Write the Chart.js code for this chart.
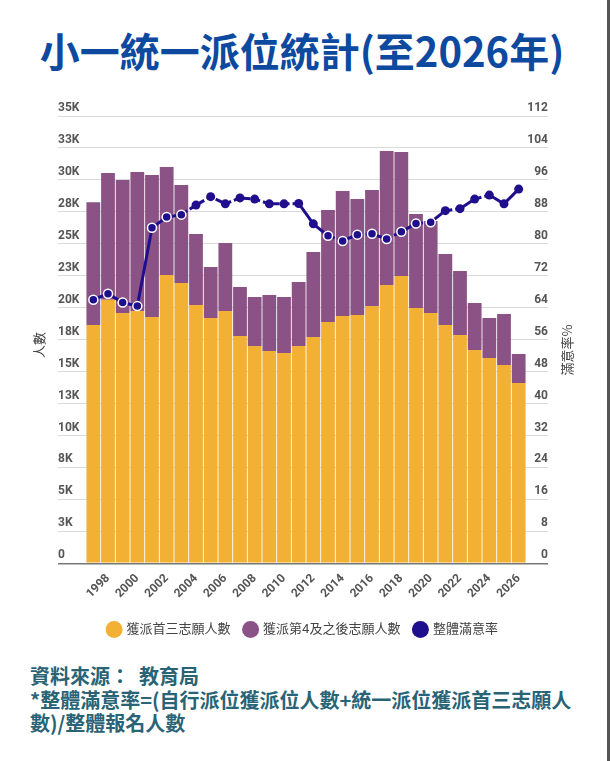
<!DOCTYPE html>
<html>
<head>
<meta charset="utf-8">
<script src="https://cdn.jsdelivr.net/npm/chart.js@4"></script>
<style>
  html, body { margin: 0; padding: 0; background: #fff; }
  body { width: 612px; height: 761px; position: relative; overflow: hidden; }
  #title {
    position: absolute; left: 0; top: 26px; width: 604px; text-align: center;
    font-family: "Noto Sans CJK TC", sans-serif; font-weight: bold; font-size: 40px;
    color: #0d4a9f; line-height: 48px; margin: 0;
  }
  #wrap { position: absolute; left: 0; top: 98px; width: 612px; height: 560px; }
  #note {
    position: absolute; left: 30px; top: 664px; white-space: nowrap;
    font-family: "Noto Sans CJK TC", sans-serif; font-weight: bold; font-size: 20px;
    line-height: 23.5px; color: #296376;
  }
  #edge { position: absolute; left: 607px; top: 0; width: 3px; height: 761px; background: #555; }
</style>
</head>
<body>
<h1 id="title">小一統一派位統計(至2026年)</h1>
<div id="wrap"><canvas id="graph"></canvas></div>
<div id="note">資料來源：&nbsp;&nbsp;教育局<br>*整體滿意率=(自行派位獲派位人數+統一派位獲派首三志願人<br>數)/整體報名人數</div>
<div id="edge"></div>
<script>
// 年份
const years = ['1997', '1998', '1999', '2000', '2001', '2002', '2003', '2004', '2005', '2006',
  '2007', '2008', '2009', '2010', '2011', '2012', '2013', '2014', '2015', '2016',
  '2017', '2018', '2019', '2020', '2021', '2022', '2023', '2024', '2025', '2026'];

// 獲派首三志願人數
const topThree = [18650, 20630, 19590, 19740, 19270, 22560, 21930, 20210, 19200, 19740,
  17790, 17000, 16610, 16460, 17000, 17710, 18880, 19350, 19430, 20130,
  21780, 22480, 19980, 19590, 18650, 17870, 16690, 16070, 15520, 14110];

// 獲派第4及之後志願人數
const fourthPlus = [9600, 9910, 10400, 10880, 11110, 8450, 7670, 5560, 3990, 5320,
  3830, 3840, 4380, 4380, 5010, 6650, 8770, 9780, 9080, 9080,
  10480, 9700, 7350, 7200, 5550, 5000, 3680, 3130, 3990, 2270];

// 整體滿意率 (%)
const satisfaction = [66.0, 67.5, 65.3, 64.4, 84.0, 86.7, 87.3, 89.7, 91.8, 90.0,
  91.5, 91.2, 90.0, 90.0, 90.1, 85.0, 82.0, 80.7, 82.3, 82.5,
  81.2, 83.0, 85.1, 85.4, 88.3, 88.8, 91.2, 92.2, 90.0, 93.7];

const ORANGE = '#f2b035';
const PURPLE = '#8a5285';
const NAVY = '#1f0f8c';
const GRID = '#dadada';
const TEXT = '#555';

// 虛線段 / 白邊點
const dashedFrom = [6, 7, 8, 9, 10, 11, 12, 13, 16, 17, 18, 19, 20, 22, 24, 26];
const ringed = i => i <= 6 || (i >= 16 && i <= 23);

const titlesPlugin = {
  id: 'axisTitles',
  afterDraw(chart) {
    const c = chart.ctx;
    c.save();
    c.fillStyle = '#444';
    c.font = '13px "Noto Sans CJK TC", sans-serif';
    c.textAlign = 'center';
    c.textBaseline = 'middle';
    [['人數', 39, 247], ['滿意率%', 567, 252]].forEach(([t, x, y]) => {
      c.save();
      c.translate(x, y);
      c.rotate(-Math.PI / 2);
      c.fillText(t, 0, 0);
      c.restore();
    });
    c.restore();
  }
};

Chart.defaults.font.family = 'Roboto, "Noto Sans CJK TC", sans-serif';
Chart.defaults.color = TEXT;

const ctx = document.getElementById('graph').getContext('2d');

new Chart(ctx, {
  data: {
    labels: years,
    datasets: [{
      type: 'bar',
      label: '獲派首三志願人數',
      data: topThree,
      backgroundColor: ORANGE,
      stack: 's',
      order: 2
    }, {
      type: 'bar',
      label: '獲派第4及之後志願人數',
      data: fourthPlus,
      backgroundColor: PURPLE,
      stack: 's',
      order: 2
    }, {
      type: 'line',
      label: '整體滿意率',
      data: satisfaction,
      yAxisID: 'y1',
      borderColor: NAVY,
      borderWidth: 3,
      pointRadius: 4.5,
      pointBackgroundColor: NAVY,
      pointBorderColor: c => ringed(c.dataIndex) ? '#fff' : NAVY,
      pointBorderWidth: c => ringed(c.dataIndex) ? 1.5 : 0,
      segment: {
        borderDash: c => dashedFrom.includes(c.p0DataIndex) ? [7, 3] : undefined
      },
      order: 1
    }]
  },
  options: {
    responsive: true,
    maintainAspectRatio: false,
    animation: false,
    layout: { padding: { left: 58, right: 64, top: 18, bottom: 12 } },
    datasets: {
      bar: { barPercentage: 0.94, categoryPercentage: 1 }
    },
    plugins: {
      legend: {
        position: 'bottom',
        labels: {
          usePointStyle: true,
          pointStyle: 'circle',
          boxWidth: 12,
          boxHeight: 12,
          padding: 14,
          color: '#444',
          font: { size: 13 },
          sort: (a, b) => a.datasetIndex - b.datasetIndex,
          generateLabels(chart) {
            return chart.data.datasets.map((d, i) => ({
              text: d.label,
              fillStyle: [ORANGE, PURPLE, NAVY][i],
              strokeStyle: [ORANGE, PURPLE, NAVY][i],
              lineWidth: 0,
              pointStyle: 'circle',
              datasetIndex: i,
              fontColor: '#444'
            }));
          }
        }
      },
      tooltip: { enabled: false }
    },
    scales: {
      x: {
        stacked: true,
        grid: { display: false, drawTicks: false },
        border: { display: false },
        ticks: {
          autoSkip: false,
          minRotation: 45,
          maxRotation: 45,
          padding: 8,
          color: TEXT,
          font: { size: 12, weight: 'bold' },
          callback: (v, i) => (i % 2 === 1 ? years[i] : '')
        }
      },
      y: {
        stacked: true,
        position: 'left',
        min: 0,
        max: 35000,
        afterFit: s => { s.width = 28; },
        grid: {
          color: c => c.tick && c.tick.value === 0 ? '#777' : GRID,
          lineWidth: c => c.tick && c.tick.value === 0 ? 1.5 : 1,
          tickLength: 28
        },
        border: { display: false },
        ticks: {
          stepSize: 2500,
          crossAlign: 'far',
          labelOffset: -8,
          color: TEXT,
          font: { size: 12, weight: 'bold' },
          callback: v => v === 0 ? '0' : Math.round(v / 1000) + 'K'
        }
      },
      y1: {
        position: 'right',
        min: 0,
        max: 112,
        afterFit: s => { s.width = 22; },
        grid: {
          drawOnChartArea: false,
          color: c => c.tick && c.tick.value === 0 ? '#777' : GRID,
          lineWidth: c => c.tick && c.tick.value === 0 ? 1.5 : 1,
          tickLength: 22
        },
        border: { display: false },
        ticks: {
          stepSize: 8,
          crossAlign: 'far',
          labelOffset: -8,
          color: TEXT,
          font: { size: 12, weight: 'bold' }
        }
      }
    }
  },
  plugins: [titlesPlugin]
});
</script>
</body>
</html>
